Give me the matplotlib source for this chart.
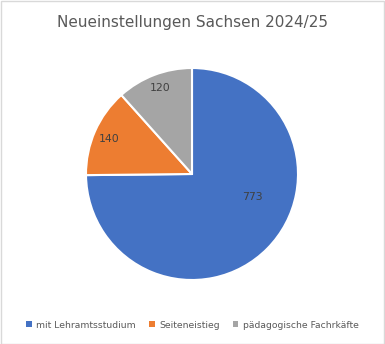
import matplotlib.pyplot as plt
from matplotlib.patches import Rectangle

# data
categories = ["mit Lehramtsstudium", "Seiteneistieg", "pädagogische Fachrkäfte"]
values = [773, 140, 120]
colors = ["#4472C4", "#ED7D31", "#A5A5A5"]
# label positions (fraction of radius), Excel "best fit"
label_pos = [(0.566, -0.217), (-0.78, 0.33), (-0.30, 0.81)]

W, H = 385, 344
fig = plt.figure(figsize=(W / 100, H / 100), dpi=100)
fig.patch.set_facecolor("white")

# outer chart border
fig.add_artist(Rectangle((0.5 / W, 0.5 / H), 1 - 1.5 / W, 1 - 1.5 / H,
                         transform=fig.transFigure, fill=False,
                         edgecolor="#D9D9D9", linewidth=1))

# pie axes: center (192, 174) px, radius 106 px
cx, cy, r = 192, 174, 106
ax = fig.add_axes([(cx - r) / W, (H - cy - r) / H, 2 * r / W, 2 * r / H])
ax.pie(values, colors=colors, startangle=90, counterclock=False, radius=1,
       wedgeprops=dict(edgecolor="white", linewidth=1.5))
ax.set_xlim(-1, 1)
ax.set_ylim(-1, 1)
ax.set_aspect("auto")
ax.axis("off")

for v, (x, y) in zip(values, label_pos):
    ax.text(x, y, str(v), ha="center", va="center", fontsize=7.8, color="#404040")

fig.text(0.5, 1 - 23 / H, "Neueinstellungen Sachsen 2024/25", ha="center", va="center",
         fontsize=11, color="#595959")

handles = [Rectangle((0, 0), 1, 1, facecolor=c, edgecolor="none") for c in colors]
fig.legend(handles, categories, loc="center", bbox_to_anchor=(0.5, 1 - 325 / H),
           ncol=3, frameon=False, fontsize=6.7, labelcolor="#595959",
           handlelength=0.6, handleheight=0.6, handletextpad=0.5, columnspacing=1.4)

fig.savefig("out.png", dpi=100)
